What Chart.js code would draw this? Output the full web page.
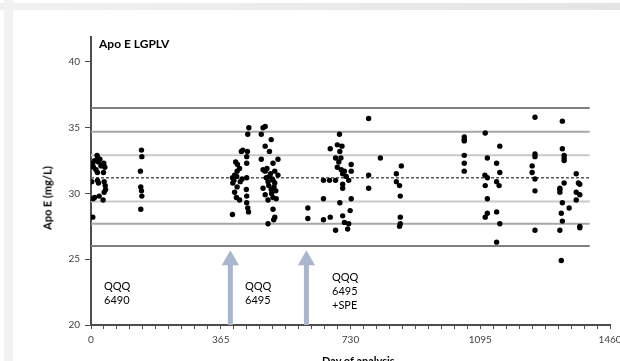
<!DOCTYPE html>
<html>
<head>
<meta charset="utf-8">
<script src="https://cdn.jsdelivr.net/npm/chart.js@4.4.1/dist/chart.umd.min.js"></script>
<style>
html,body{margin:0;padding:0;width:620px;height:361px;overflow:hidden;background:#fff;}
#wrap{position:relative;width:620px;height:361px;overflow:hidden;}
.bandTop{position:absolute;left:0;top:3px;width:620px;height:7px;background:linear-gradient(to right,#f1f1f1,#e4e4e4);}
.bandLeft{position:absolute;left:4px;top:0;width:9px;height:361px;background:#f2f2f2;}
canvas{position:absolute;left:0;top:0;}
.txt{position:absolute;font-family:Lato,"Liberation Sans",sans-serif;color:#000;white-space:nowrap;}
.note{font-size:11px;line-height:14px;}
.bold{font-weight:bold;}
</style>
</head>
<body>
<div id="wrap">
  <div class="bandTop"></div>
  <div class="bandLeft"></div>
  <canvas id="c" width="620" height="361"></canvas>
  <div class="txt bold" style="left:99px;top:36px;font-size:12px;">Apo E LGPLV</div>
  <div class="txt bold" style="left:47px;top:198px;font-size:11px;transform:translate(-50%,-50%) rotate(-90deg);">Apo E (mg/L)</div>
  <div class="txt bold" style="left:322px;top:354px;font-size:11px;">Day of analysis</div>
  <div class="txt note" style="left:104px;top:279px;">QQQ<br>6490</div>
  <div class="txt note" style="left:245px;top:279px;">QQQ<br>6495</div>
  <div class="txt note" style="left:332px;top:270px;">QQQ<br>6495<br>+SPE</div>
</div>
<script>
// ---- data ----
const analysisDay = [
  2,5,7,10,17,19,21,25,28,36,39,14,18,35,2,18,21,37,40,41,37,6,10,23,34,5,
  142,143,139,140,142,143,140,
  444,441,427,423,440,438,407,412,438,418,411,404,398,410,438,399,411,404,437,409,438,418,438,441,443,398,420,402,425,
  490,484,479,507,490,502,526,479,512,484,490,517,526,502,493,512,498,517,484,507,520,490,512,521,498,512,517,514,498,505,510,500,515,495,508,
  610,610,
  654,654,654,671,673,673,688,688,688,693,699,706,700,693,704,713,708,725,708,708,732,732,732,700,729,708,713,725,722,697,718,703,
  781,781,781,814,
  873,859,859,868,870,870,870,868,
  1050,1050,1050,1050,1050,1050,
  1109,1150,1115,1141,1150,1108,1115,1109,1141,1148,1115,1115,1109,1141,1150,1141,
  1249,1249,1249,1241,1241,1249,1249,1249,
  1326,1326,1331,1331,1331,1319,1319,1326,1345,1323,1326,1319,1323,1365,1371,1375,1365,1375,1365,1375,1375,1319,1331
];
const apoE = [
  32.2,32.3,32.0,32.5,32.9,32.7,32.4,32.6,32.1,32.3,32.0,31.8,31.6,31.6,30.9,31.0,30.8,30.9,30.6,30.3,30.1,29.6,29.7,29.8,29.5,28.2,
  33.3,32.8,31.7,30.5,30.2,29.8,28.8,
  35.0,34.5,33.3,33.2,33.2,32.8,32.4,32.2,32.3,31.9,31.7,31.4,31.2,31.3,31.2,30.8,30.5,30.1,30.3,29.7,29.8,29.5,29.3,28.9,28.6,28.4,30.9,31.0,31.1,
  35.1,35.0,34.5,34.1,33.6,33.2,32.6,32.6,32.3,31.8,31.7,31.7,31.4,31.3,31.2,31.0,30.9,30.8,30.4,30.3,30.2,29.9,29.7,29.6,29.5,28.8,28.2,28.0,27.7,31.5,31.1,30.6,30.5,31.9,30.0,
  28.9,28.1,
  31.0,29.6,28.0,31.0,28.2,33.4,31.0,27.2,32.7,33.7,34.5,33.6,33.2,32.0,31.8,31.7,31.5,31.0,30.7,30.4,32.2,31.7,29.6,29.3,28.7,28.3,27.8,27.7,27.3,32.4,31.3,32.7,
  35.7,31.4,30.4,32.7,
  32.1,31.5,30.9,30.6,29.8,28.2,27.7,27.5,
  34.3,34.1,34.0,32.9,32.3,31.7,
  34.6,33.6,32.7,32.3,31.6,31.4,31.2,30.6,30.9,30.6,29.6,28.5,28.2,28.6,27.7,26.3,
  35.8,33.0,32.8,32.1,31.6,31.1,30.2,27.2,
  35.5,33.4,32.9,32.5,30.8,30.4,30.1,29.3,28.9,28.5,27.9,27.2,24.9,31.5,30.8,30.7,30.1,29.9,29.5,27.5,27.4,30.3,32.7
];
const limitValues = [36.5, 34.7, 32.9, 31.2, 29.4, 27.7, 26.0];
const limitSpan = [0, 1403];
const arrowDays = [392, 606];
const arrowSpan = [20, 24.93];
const xTickLabels = [0, 365, 730, 1095, 1460];
const yTickLabels = [20, 25, 30, 35, 40];
const xMinorStep = 36.5;

// ---- styles ----
const limitColors = ['#7f7f7f', '#a6a6a6', '#c9c9c9', '#595959', '#c9c9c9', '#a6a6a6', '#7f7f7f'];
const arrowColor = '#a8b7cd';
const axisColor = '#4d4d4d';
const tickFont = {family: 'Lato', size: 10};

const datasets = [];
datasets.push({
  type: 'scatter',
  data: analysisDay.map((d, i) => ({x: d, y: apoE[i]})),
  pointRadius: 2.7,
  pointHoverRadius: 2.7,
  backgroundColor: '#000',
  borderWidth: 0
});
limitValues.forEach((v, i) => {
  datasets.push({
    type: 'line',
    data: limitSpan.map(d => ({x: d, y: v})),
    borderColor: limitColors[i],
    borderWidth: i === 3 ? 1.5 : 2,
    borderDash: i === 3 ? [3, 2] : [],
    pointRadius: 0,
    fill: false
  });
});
arrowDays.forEach(d => {
  datasets.push({
    type: 'line',
    data: arrowSpan.map(v => ({x: d, y: v})),
    borderColor: arrowColor,
    borderWidth: 5,
    pointRadius: [0, 10],
    pointStyle: 'triangle',
    pointBackgroundColor: arrowColor,
    pointBorderWidth: 0,
    fill: false
  });
});

new Chart(document.getElementById('c'), {
  type: 'scatter',
  data: {datasets},
  options: {
    responsive: false,
    devicePixelRatio: 1,
    animation: false,
    events: [],
    layout: {padding: {top: 37, right: 9, left: 0, bottom: 0}},
    plugins: {legend: {display: false}, tooltip: {enabled: false}, title: {display: false}},
    scales: {
      x: {
        type: 'linear', position: 'bottom', min: 0, max: 1460,
        afterBuildTicks: s => { s.ticks = Array.from({length: 41}, (_, i) => ({value: i * xMinorStep})); },
        afterFit: s => { s.height = 36; s.paddingLeft = 0; s.paddingRight = 0; },
        ticks: {
          autoSkip: false, maxRotation: 0, padding: 5, color: '#404040', font: tickFont,
          callback: v => { const k = xTickLabels.indexOf(v); return k >= 0 ? String(xTickLabels[k]) : ''; }
        },
        grid: {drawOnChartArea: false, drawTicks: true, tickLength: 4, color: axisColor, lineWidth: 1},
        border: {display: true, color: axisColor, width: 2}
      },
      y: {
        type: 'linear', position: 'left', min: 20, max: 41.9,
        afterBuildTicks: s => { s.ticks = yTickLabels.map(v => ({value: v})); },
        afterFit: s => { s.width = 91; s.paddingTop = 0; s.paddingBottom = 0; },
        ticks: {padding: 5, color: '#404040', font: tickFont},
        grid: {drawOnChartArea: false, drawTicks: true, tickLength: 6, color: axisColor, lineWidth: 1},
        border: {display: true, color: axisColor, width: 2}
      }
    }
  }
});
</script>
</body>
</html>
